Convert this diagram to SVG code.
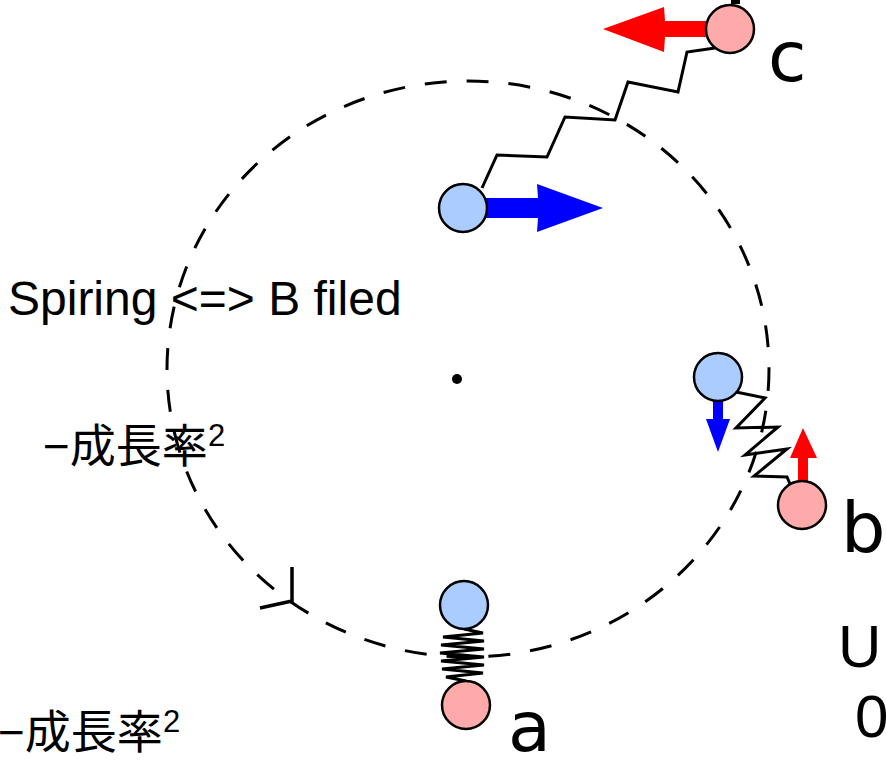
<svg xmlns="http://www.w3.org/2000/svg" width="886" height="760" viewBox="0 0 886 760">
  <style>
    .orbit { fill: none; stroke: #000; stroke-width: 3; stroke-dasharray: 22 20; }
    .spring { fill: none; stroke: #000; stroke-width: 3; stroke-linejoin: miter; }
    .blue { fill: #aaccff; stroke: #000; stroke-width: 2.5; }
    .red { fill: #ffaaaa; stroke: #000; stroke-width: 2.5; }
    .fblue { fill: #0000ff; }
    .fred { fill: #ff0000; }
    .lbl { font-family: "DejaVu Sans", sans-serif; font-size: 70px; fill: #000; }
    .txt { font-family: "Liberation Sans", "Noto Sans CJK JP", sans-serif; fill: #000; }
  </style>
  <rect width="886" height="760" fill="#fff"/>

  <!-- dashed orbit with its direction mark -->
  <g id="orbit">
    <ellipse class="orbit" cx="468" cy="369" rx="301" ry="288"/>
    <path d="M292 567 L292 602 M260 608 L292 601" fill="none" stroke="#000" stroke-width="3.5"/>
    <circle cx="457" cy="379" r="5" fill="#000"/>
  </g>

  <!-- springs -->
  <g id="connectors">
    <polyline class="spring" points="482,188 497,155 547,157 565,117 615,120 628,82 678,92 687,52 715,48"/>
    <polyline class="spring" points="736,392 765,398 736,428 778,427 745,455 787,449 754,476 787,477 790,484"/>
    <polyline class="spring" points="464,629 483,633 443,637 484,641 441,645 484,649 440,653 484,657 441,661 484,665 442,669 483,673 446,677 466,681"/>
  </g>

  <!-- pair c -->
  <g id="pair-c">
    <rect x="731" y="0" width="9" height="4" fill="#000"/>
    <polygon class="fred" points="708,21 665,21 664,7 603,29 664,52 665,37 708,37"/>
    <circle class="red" cx="730" cy="29" r="24"/>
    <polygon class="fblue" points="485,198 538,198 537,184 603,208 537,232 538,218 485,218"/>
    <circle class="blue" cx="463" cy="208" r="24"/>
    <text class="lbl" x="768" y="81">c</text>
  </g>

  <!-- pair b -->
  <g id="pair-b">
    <polygon class="fblue" points="713,398 723,398 723,419 730,419 718,452 706,419 713,419"/>
    <circle class="blue" cx="718" cy="377" r="24"/>
    <polygon class="fred" points="798,484 808,484 808,458 817,458 803,428 790,458 798,458"/>
    <circle class="red" cx="802" cy="505" r="24"/>
    <text class="lbl" x="841" y="552">b</text>
  </g>

  <!-- pair a -->
  <g id="pair-a">
    <circle class="blue" cx="464" cy="605" r="24"/>
    <circle class="red" cx="466" cy="705" r="24"/>
    <text class="lbl" x="508" y="751">a</text>
  </g>

  <!-- captions -->
  <g id="captions">
    <text class="txt" x="8" y="315" font-size="48">Spiring &lt;=&gt; B filed</text>
    <text class="txt" x="43" y="462" font-size="46">−成長率<tspan font-size="31" dy="-16">2</tspan></text>
    <text class="txt" x="-2" y="748" font-size="46">−成長率<tspan font-size="31" dy="-16">2</tspan></text>
    <text class="txt" x="838" y="667" font-size="60">U</text>
    <text class="txt" x="855" y="737" font-size="60">0</text>
  </g>
</svg>
